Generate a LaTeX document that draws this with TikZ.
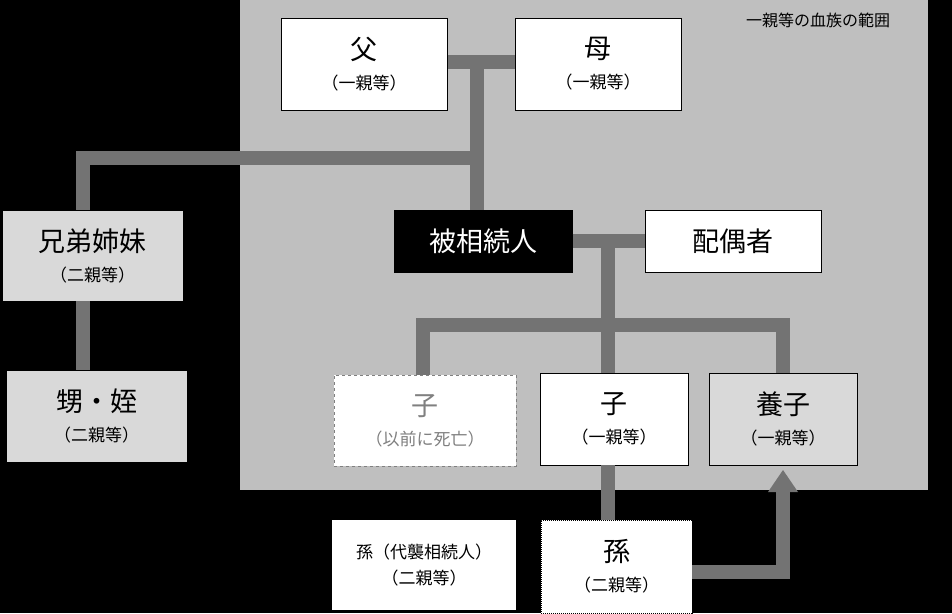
\documentclass[tikz,border=0pt]{standalone}
\usepackage{fontspec}
\setmainfont{Noto Sans CJK JP}
\usetikzlibrary{arrows.meta}
\begin{document}
\begin{tikzpicture}[x=1pt,y=-1pt,
 bx/.style={draw=black,line width=1pt,fill=white,inner sep=0pt,align=center,font=\fontsize{27}{34}\selectfont},
 sub/.style={font=\fontsize{17}{22}\selectfont},
 ln/.style={draw=gray!90!black,line width=14pt},
 ]
\fill[black] (0,0) rectangle (952,613);
\useasboundingbox (0,0) rectangle (952,613);
\fill[gray!50] (240,0) rectangle (928,490);
\node[font=\fontsize{16}{18}\selectfont] (title) at (818,20) {一親等の血族の範囲};
\node[bx,minimum width=166,minimum height=92] (f) at (364,64) {父\\[-4pt]{\fontsize{17}{22}\selectfont（一親等）}};
\node[bx,minimum width=166,minimum height=92] (m) at (598,64) {母\\[-4pt]{\fontsize{17}{22}\selectfont（一親等）}};
\node[bx,fill=gray!30,minimum width=181,minimum height=91] (sib) at (92.5,255.5) {兄弟姉妹\\[-4pt]{\fontsize{17}{22}\selectfont（二親等）}};
\node[bx,fill=gray!30,minimum width=181,minimum height=92] (nep) at (96.5,416) {甥・姪\\[-4pt]{\fontsize{17}{22}\selectfont（二親等）}};
\node[bx,fill=black,text=white,minimum width=178,minimum height=62] (me) at (483,241) {被相続人};
\node[bx,minimum width=176,minimum height=62] (sp) at (733,241) {配偶者};
\node[bx,draw=gray,dashed,text=gray,minimum width=182,minimum height=91] (dc) at (425,420.5) {子\\[-4pt]{\fontsize{17}{22}\selectfont（以前に死亡）}};
\node[bx,minimum width=148,minimum height=92] (c) at (614,419) {子\\[-4pt]{\fontsize{17}{22}\selectfont（一親等）}};
\node[bx,fill=gray!30,minimum width=148,minimum height=92] (ad) at (783,419) {養子\\[-4pt]{\fontsize{17}{22}\selectfont（一親等）}};
\node[bx,densely dotted,minimum width=151,minimum height=93] (gc) at (616.5,566.5) {孫\\[-4pt]{\fontsize{17}{22}\selectfont（二親等）}};
\node[bx,draw=none,minimum width=184,minimum height=90,font=\fontsize{17}{26}\selectfont] (gcn) at (424,565) {孫（代襲相続人）\\（二親等）};
\coordinate (j1) at (477,62);
\coordinate (j2) at (477,158);
\coordinate (j3) at (608,241);
\coordinate (j4) at (608,325);
\begin{scope}[on background layer/.style={}]
\end{scope}
\draw[ln] (f.east|-j1) -- (m.west|-j1);
\draw[ln] (j1) -- (j1|-me.north);
\draw[ln] (j2) -- (83,158) -- (83,210);
\draw[ln] (83,301) -- (83,370);
\draw[ln] (me.east|-j3) -- (sp.west|-j3);
\draw[ln] (j3) -- (608,373);
\draw[ln] (423,375) -- (423,325) -- (783,325) -- (783,373);
\draw[ln] (608,465) -- (608,520);
\draw[ln] (692,572) -- (783,572) -- (783,492);
\fill[gray!90!black] (768,492) -- (798,492) -- (783,470) -- cycle;
\end{tikzpicture}
\end{document}
